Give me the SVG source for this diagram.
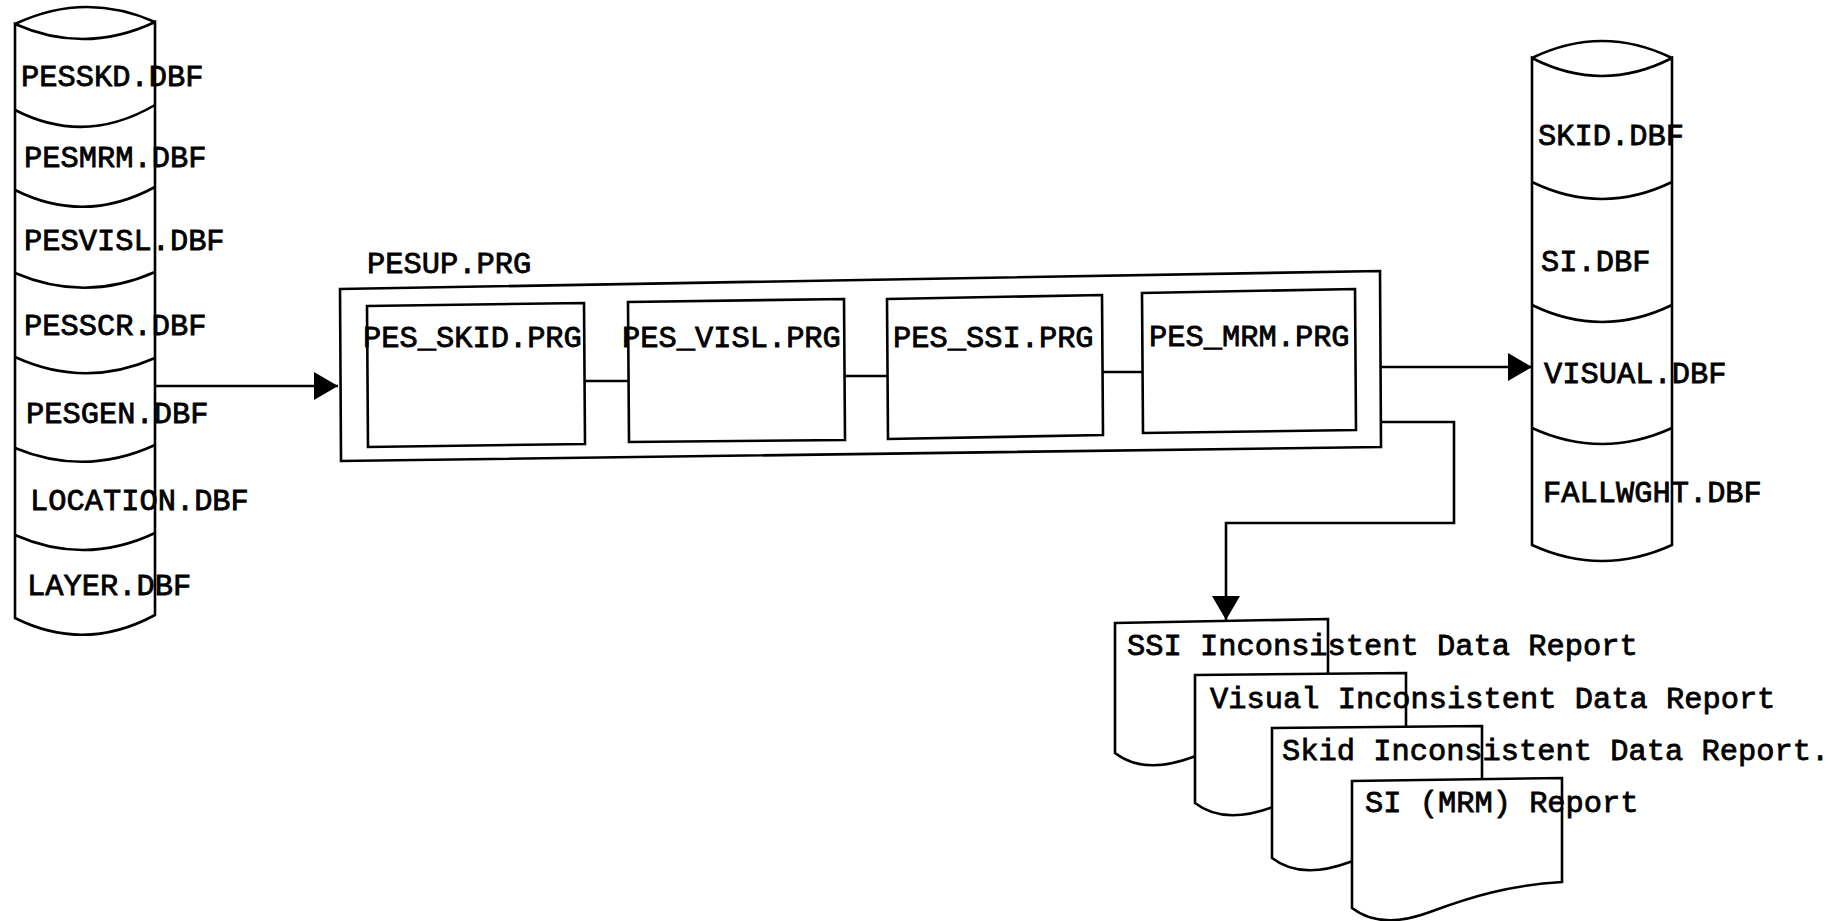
<svg xmlns="http://www.w3.org/2000/svg" width="1829" height="921" viewBox="0 0 1829 921">
<style>
.ln{fill:none;stroke:#000;stroke-width:2.6;stroke-linejoin:miter}
.sh{fill:#fff;stroke:#000;stroke-width:2.6;stroke-linejoin:miter}
.t{font-family:"Liberation Mono","Courier New",monospace;font-size:30.4px;font-weight:normal;fill:#000;stroke:#000;stroke-width:0.8}
</style>
<defs>
<marker id="ah" markerUnits="userSpaceOnUse" viewBox="0 0 24 28" refX="24" refY="14" markerWidth="24" markerHeight="28" orient="auto">
<path d="M0,0 L24,14 L0,28 Z" fill="#000"/>
</marker>
</defs>
<rect width="1829" height="921" fill="#fff"/>

<g id="db-input">
<path class="sh" d="M15,24 L15,618 Q85,653 155,615 L155,22 Q85,55 15,24 Z"/>
<path class="ln" d="M15,24 Q85,-9 155,22"/>
<path class="ln" d="M15,110 Q85,146 155,105"/>
<path class="ln" d="M15,190 Q85,225 155,187"/>
<path class="ln" d="M15,273 Q85,303 155,272"/>
<path class="ln" d="M15,357 Q85,389 155,358"/>
<path class="ln" d="M15,448 Q85,477 155,445"/>
<path class="ln" d="M15,535 Q85,566 155,533"/>
<text class="t" x="21" y="86">PESSKD.DBF</text>
<text class="t" x="24" y="167">PESMRM.DBF</text>
<text class="t" x="24" y="250">PESVISL.DBF</text>
<text class="t" x="24" y="335">PESSCR.DBF</text>
<text class="t" x="26" y="423">PESGEN.DBF</text>
<text class="t" x="30" y="510">LOCATION.DBF</text>
<text class="t" x="27" y="595">LAYER.DBF</text>
</g>

<g id="pesup">
<polygon class="sh" points="340,289 1380,271 1381,447 341,461"/>
<text class="t" x="367" y="273">PESUP.PRG</text>
</g>
<g id="pes-skid">
<polygon class="sh" points="367,306 584,303 585,444 368,447"/>
<text class="t" x="363" y="347">PES_SKID.PRG</text>
</g>
<g id="pes-visl">
<polygon class="sh" points="628,302 844,299 845,440 629,442"/>
<text class="t" x="622" y="347">PES_VISL.PRG</text>
</g>
<g id="pes-ssi">
<polygon class="sh" points="887,299 1102,295 1103,435 888,439"/>
<text class="t" x="893" y="347">PES_SSI.PRG</text>
</g>
<g id="pes-mrm">
<polygon class="sh" points="1142,293 1355,289 1356,430 1143,433"/>
<text class="t" x="1149" y="346">PES_MRM.PRG</text>
</g>

<g id="db-output">
<path class="sh" d="M1532,58 L1532,545 Q1602,577 1672,545 L1672,58 Q1602,94 1532,58 Z"/>
<path class="ln" d="M1532,58 Q1602,24 1672,58"/>
<path class="ln" d="M1532,182 Q1602,216 1672,182"/>
<path class="ln" d="M1532,305 Q1602,339 1672,305"/>
<path class="ln" d="M1532,428 Q1602,460 1672,428"/>
<text class="t" x="1538" y="145">SKID.DBF</text>
<text class="t" x="1541" y="271">SI.DBF</text>
<text class="t" x="1544" y="383">VISUAL.DBF</text>
<text class="t" x="1543" y="502">FALLWGHT.DBF</text>
</g>

<g id="report-ssi">
<path class="sh" d="M1115,623 L1328,619 L1328,727 C1276,730 1236,742 1193,757 C1158,770 1133,767 1115,753 Z"/>
<text class="t" x="1127" y="655">SSI Inconsistent Data Report</text>
</g>
<g id="report-visual">
<path class="sh" d="M1195,675 L1406,673 L1406,777 C1354,780 1314,792 1273,807 C1238,820 1213,817 1195,803 Z"/>
<text class="t" x="1210" y="708">Visual Inconsistent Data Report</text>
</g>
<g id="report-skid">
<path class="sh" d="M1272,728 L1482,726 L1482,832 C1430,835 1390,847 1350,862 C1315,875 1290,872 1272,858 Z"/>
<text class="t" x="1282" y="760">Skid Inconsistent Data Report.</text>
</g>
<g id="report-si">
<path class="sh" d="M1352,781 L1562,778 L1562,882 C1510,885 1470,897 1430,912 C1395,925 1370,922 1352,908 Z"/>
<text class="t" x="1365" y="812">SI (MRM) Report</text>
</g>

<g id="connectors">
<path class="ln" d="M155,386 L338,386" marker-end="url(#ah)"/>
<path class="ln" d="M585,381 L628,381"/>
<path class="ln" d="M844,376 L887,376"/>
<path class="ln" d="M1102,372 L1142,372"/>
<path class="ln" d="M1380,367 L1532,367" marker-end="url(#ah)"/>
<path class="ln" d="M1381,422 L1454,422 L1454,523 L1226,523 L1226,620" marker-end="url(#ah)"/>
</g>
</svg>
